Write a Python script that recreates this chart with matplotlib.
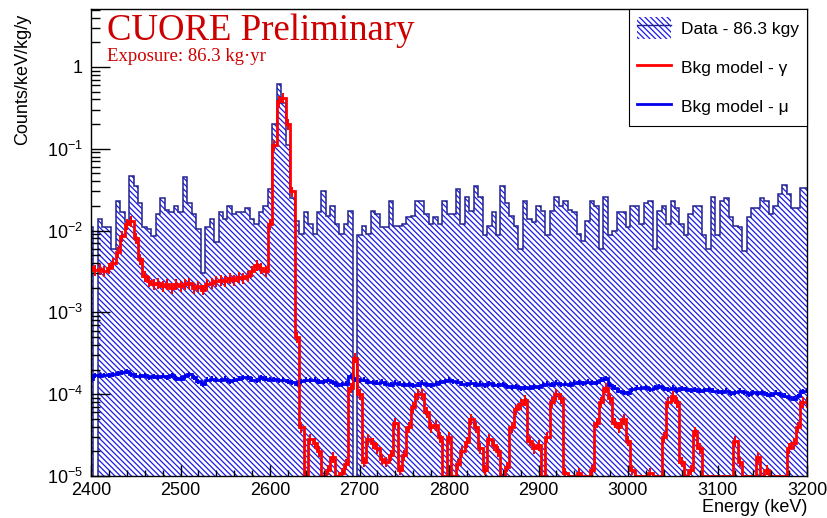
import numpy as np
import matplotlib
matplotlib.use("Agg")
import matplotlib.pyplot as plt
from matplotlib.patches import Patch
from matplotlib.lines import Line2D
from matplotlib.ticker import FixedLocator, LogLocator, MultipleLocator, NullFormatter

# ── binning: 5 keV bins, first centre at 2400 keV ─────────────────
BIN_WIDTH = 5.0
E_FIRST = 2400.0

# data (counts/keV/kg/y), one value per 5 keV bin, 2400 ... 3200 keV
DATA = np.array([
    1.1e-2, 0, 1.4e-2, 1.1e-2, 1.1e-2, 6.0e-3, 2.3e-2, 1.7e-2, 1.26e-2, 4.7e-2,
    3.5e-2, 2.2e-2, 1.1e-2, 1.05e-2, 8.5e-3, 1.6e-2, 2.5e-2, 1.8e-2, 1.7e-2, 2.0e-2,
    1.7e-2, 4.5e-2, 2.2e-2, 1.6e-2, 1.05e-2, 3.0e-3, 1.1e-2, 1.4e-2, 7.2e-3, 1.7e-2,
    1.4e-2, 2.0e-2, 1.6e-2, 1.7e-2, 1.7e-2, 1.9e-2, 1.4e-2, 1.2e-2, 1.7e-2, 2.0e-2,
    3.2e-2, 0.2, 0.62, 0.36, 0.11, 2.5e-2, 1.3e-2, 9.0e-3, 1.7e-2, 1.2e-2,
    9.0e-3, 1.7e-2, 3.0e-2, 1.5e-2, 2.0e-2, 1.2e-2, 9.0e-3, 1.2e-2, 1.75e-2, 0,
    8.7e-3, 1.15e-2, 9.0e-3, 1.75e-2, 1.6e-2, 1.1e-2, 1.1e-2, 2.3e-2, 1.15e-2, 1.15e-2,
    1.2e-2, 1.45e-2, 1.5e-2, 2.3e-2, 2.3e-2, 1.6e-2, 1.2e-2, 1.45e-2, 1.2e-2, 2.3e-2,
    1.6e-2, 1.6e-2, 3.2e-2, 1.2e-2, 2.6e-2, 1.75e-2, 3.5e-2, 2.6e-2, 8.7e-3, 1.15e-2,
    1.7e-2, 8.7e-3, 3.5e-2, 2.2e-2, 1.5e-2, 1.15e-2, 6.0e-3, 2.3e-2, 1.4e-2, 1.26e-2,
    2.0e-2, 1.75e-2, 8.7e-3, 1.75e-2, 2.6e-2, 2.0e-2, 2.3e-2, 1.8e-2, 1.7e-2, 9.0e-3,
    7.5e-3, 1.3e-2, 2.3e-2, 2.0e-2, 6.0e-3, 2.6e-2, 8.7e-3, 1.0e-2, 1.7e-2, 1.7e-2,
    1.1e-2, 2.0e-2, 2.0e-2, 1.2e-2, 2.2e-2, 2.3e-2, 6.0e-3, 1.75e-2, 2.0e-2, 1.2e-2,
    2.3e-2, 1.9e-2, 1.2e-2, 8.7e-3, 1.6e-2, 2.0e-2, 2.0e-2, 8.7e-3, 6.0e-3, 2.6e-2,
    8.7e-3, 2.3e-2, 2.5e-2, 1.45e-2, 1.15e-2, 1.1e-2, 5.7e-3, 1.45e-2, 1.9e-2, 1.9e-2,
    2.5e-2, 2.3e-2, 1.6e-2, 2.0e-2, 2.8e-2, 3.6e-2, 2.8e-2, 1.9e-2, 1.9e-2, 3.3e-2,
    3.3e-2,
])

# background model, gamma component
GAMMA = np.array([
    3.6e-3, 3.3e-3, 3.4e-3, 3.2e-3, 3.5e-3, 4.0e-3, 5.5e-3, 8.5e-3, 1.2e-2, 1.3e-2,
    8.0e-3, 4.5e-3, 2.8e-3, 2.4e-3, 2.2e-3, 2.3e-3, 2.1e-3, 2.2e-3, 2.0e-3, 2.2e-3,
    2.1e-3, 2.2e-3, 2.3e-3, 2.0e-3, 2.1e-3, 1.9e-3, 2.2e-3, 2.3e-3, 2.4e-3, 2.5e-3,
    2.4e-3, 2.6e-3, 2.5e-3, 2.7e-3, 2.6e-3, 2.8e-3, 3.2e-3, 3.8e-3, 3.5e-3, 3.2e-3,
    1.2e-2, 1.1e-1, 3.8e-1, 4.2e-1, 2.0e-1, 3.0e-2, 5.0e-4, 4.0e-5, 0, 2.8e-5,
    2.5e-5, 2.0e-5, 0, 1.2e-5, 1.7e-5, 0, 1.1e-5, 1.4e-5, 1.2e-4, 2.8e-4,
    1.0e-4, 1.5e-5, 2.8e-5, 2.5e-5, 2.2e-5, 1.6e-5, 1.5e-5, 1.8e-5, 4.5e-5, 1.2e-5,
    1.8e-5, 4.0e-5, 7.0e-5, 1.0e-4, 1.0e-4, 6.0e-5, 4.0e-5, 4.2e-5, 3.0e-5, 0,
    3.0e-5, 0, 1.4e-5, 2.0e-5, 2.6e-5, 5.0e-5, 4.0e-5, 2.2e-5, 1.2e-5, 2.8e-5,
    2.4e-5, 2.0e-5, 0, 1.3e-5, 4.0e-5, 6.5e-5, 7.5e-5, 8.5e-5, 2.7e-5, 2.2e-5,
    2.4e-5, 0, 3.0e-5, 8.0e-5, 1.0e-4, 9.0e-5, 1.1e-5, 0, 0, 1.1e-5,
    0, 0, 1.2e-5, 4.5e-5, 8.0e-5, 1.2e-4, 9.0e-5, 4.5e-5, 4.0e-5, 5.0e-5,
    2.7e-5, 1.2e-5, 0, 0, 0, 1.1e-5, 0, 0, 3.0e-5, 8.0e-5,
    9.5e-5, 8.0e-5, 1.5e-5, 0, 1.2e-5, 3.5e-5, 2.2e-5, 0, 0, 0,
    0, 0, 0, 0, 2.7e-5, 1.5e-5, 0, 0, 0, 1.7e-5,
    0, 1.2e-5, 0, 0, 0, 0, 2.2e-5, 2.5e-5, 4.0e-5, 8.0e-5,
    8.0e-5,
])

# background model, muon component
MU = np.array([
    1.55e-4, 1.70e-4, 1.68e-4, 1.72e-4, 1.70e-4, 1.75e-4, 1.80e-4, 1.85e-4, 1.90e-4, 1.75e-4,
    1.68e-4, 1.65e-4, 1.70e-4, 1.62e-4, 1.66e-4, 1.60e-4, 1.68e-4, 1.62e-4, 1.70e-4, 1.58e-4,
    1.55e-4, 1.65e-4, 1.75e-4, 1.60e-4, 1.45e-4, 1.32e-4, 1.50e-4, 1.55e-4, 1.50e-4, 1.48e-4,
    1.55e-4, 1.45e-4, 1.50e-4, 1.55e-4, 1.60e-4, 1.62e-4, 1.50e-4, 1.48e-4, 1.60e-4, 1.55e-4,
    1.50e-4, 1.52e-4, 1.48e-4, 1.50e-4, 1.45e-4, 1.40e-4, 1.35e-4, 1.45e-4, 1.50e-4, 1.48e-4,
    1.50e-4, 1.42e-4, 1.45e-4, 1.50e-4, 1.40e-4, 1.30e-4, 1.32e-4, 1.35e-4, 1.65e-4, 1.50e-4,
    1.48e-4, 1.50e-4, 1.42e-4, 1.40e-4, 1.38e-4, 1.42e-4, 1.35e-4, 1.30e-4, 1.38e-4, 1.35e-4,
    1.30e-4, 1.32e-4, 1.28e-4, 1.30e-4, 1.38e-4, 1.32e-4, 1.28e-4, 1.35e-4, 1.40e-4, 1.45e-4,
    1.50e-4, 1.45e-4, 1.42e-4, 1.35e-4, 1.32e-4, 1.38e-4, 1.30e-4, 1.35e-4, 1.28e-4, 1.36e-4,
    1.30e-4, 1.28e-4, 1.32e-4, 1.25e-4, 1.22e-4, 1.25e-4, 1.18e-4, 1.22e-4, 1.20e-4, 1.25e-4,
    1.22e-4, 1.30e-4, 1.35e-4, 1.30e-4, 1.38e-4, 1.32e-4, 1.35e-4, 1.30e-4, 1.38e-4, 1.40e-4,
    1.36e-4, 1.42e-4, 1.38e-4, 1.40e-4, 1.50e-4, 1.58e-4, 1.30e-4, 1.20e-4, 1.10e-4, 1.05e-4,
    1.02e-4, 1.15e-4, 1.20e-4, 1.18e-4, 1.22e-4, 1.15e-4, 1.20e-4, 1.25e-4, 1.18e-4, 1.15e-4,
    1.20e-4, 1.12e-4, 1.18e-4, 1.15e-4, 1.12e-4, 1.15e-4, 1.10e-4, 1.12e-4, 1.15e-4, 1.10e-4,
    1.08e-4, 1.05e-4, 1.10e-4, 1.02e-4, 1.06e-4, 1.10e-4, 1.05e-4, 1.00e-4, 1.05e-4, 1.02e-4,
    1.06e-4, 1.00e-4, 0.98e-4, 1.04e-4, 1.00e-4, 0.96e-4, 0.92e-4, 0.88e-4, 0.95e-4, 1.08e-4,
    1.10e-4,
])

GAMMA_REL_UNC = 0.15   # MC statistical uncertainty
MU_REL_UNC = 0.07

LEGEND_LABELS = ["Data - 86.3 kgy", "Bkg model - γ", "Bkg model - μ"]
Y_TICKS = [1e-5, 1e-4, 1e-3, 1e-2, 1e-1, 1]
Y_TICKLABELS = [r"$\mathregular{10^{-5}}$", r"$\mathregular{10^{-4}}$", r"$\mathregular{10^{-3}}$",
                r"$\mathregular{10^{-2}}$", r"$\mathregular{10^{-1}}$", "1"]

YMIN, YMAX = 1e-5, 5.1
TINY = 1e-9

centres = E_FIRST + BIN_WIDTH * np.arange(len(DATA))
edges = np.append(centres - BIN_WIDTH / 2, centres[-1] + BIN_WIDTH / 2)

plt.rcParams.update({
    "font.family": ["Liberation Sans", "DejaVu Sans"],
    "mathtext.fontset": "custom",
    "mathtext.rm": "Liberation Sans",
    "mathtext.it": "Liberation Sans:italic",
    "hatch.linewidth": 0.9,
})

HATCH = "\\" * 6
HATCH_COL = "#1a1ae8"
OUTLINE_COL = "#22228f"
MU_COL = "#0000ee"
GAMMA_COL = "#ff0000"

fig = plt.figure(figsize=(8.28, 5.18), dpi=100)
ax = fig.add_axes([91 / 828, 1 - 476 / 518, 716 / 828, 467 / 518])
ax.set_yscale("log")

# ── data histogram (hatched) ──
data_plot = np.where(DATA > 0, DATA, TINY)
ax.fill_between(edges, np.append(data_plot, data_plot[-1]), TINY, step="post",
                facecolor="none", edgecolor=HATCH_COL, hatch=HATCH, linewidth=0)
ax.stairs(data_plot, edges, baseline=None, color=OUTLINE_COL, lw=1.1)

# ── muon model ──
ax.stairs(np.clip(MU, YMIN, None), edges, baseline=None, color=MU_COL, lw=2)
ax.errorbar(centres, MU, yerr=MU * MU_REL_UNC, fmt="none", ecolor=MU_COL, elinewidth=1.4)

# ── gamma model ──
ax.stairs(np.clip(GAMMA, YMIN, None), edges, baseline=None, color=GAMMA_COL, lw=2)
nz = GAMMA > 0
ax.errorbar(centres[nz], GAMMA[nz], yerr=GAMMA[nz] * GAMMA_REL_UNC, fmt="none",
            ecolor=GAMMA_COL, elinewidth=1.4)

ax.set_xlim(2400, 3200)
ax.set_ylim(YMIN, YMAX)

ax.xaxis.set_major_locator(MultipleLocator(100))
ax.xaxis.set_minor_locator(MultipleLocator(20))
ax.yaxis.set_major_locator(FixedLocator(Y_TICKS))
ax.set_yticklabels(Y_TICKLABELS)
ax.yaxis.set_minor_locator(LogLocator(base=10, subs=range(2, 10), numticks=20))
ax.yaxis.set_minor_formatter(NullFormatter())

ax.tick_params(which="both", direction="in", top=False, right=False, labelsize=13, width=1)
ax.tick_params(axis="y", which="major", length=14, pad=6)
ax.tick_params(axis="y", which="minor", length=6.5)
ax.tick_params(axis="x", which="major", length=8, pad=4)
ax.tick_params(axis="x", which="minor", length=4.3)
for sp in ax.spines.values():
    sp.set_linewidth(1)

ax.set_xlabel("Energy (keV)", fontsize=13, loc="right")
ax.xaxis.set_label_coords(1.0, -0.05)
ax.set_ylabel("Counts/keV/kg/y", fontsize=13, loc="top")
ax.yaxis.set_label_coords(-0.083, 0.99)

ax.text(0.022, 0.9336, "CUORE Preliminary", transform=ax.transAxes, color="#cc0000",
        fontsize=26.5, family=["Liberation Serif", "DejaVu Serif"], va="baseline")
ax.text(0.022, 0.8887, "Exposure: 86.3 kg·yr", transform=ax.transAxes, color="#cc0000",
        fontsize=13.5, family=["Liberation Serif", "DejaVu Serif"], va="baseline")

h_data = (Patch(facecolor="white", edgecolor=HATCH_COL, hatch=HATCH, lw=0),
          Line2D([], [], color=OUTLINE_COL, lw=1))
h_gamma = Line2D([], [], color=GAMMA_COL, lw=2)
h_mu = Line2D([], [], color=MU_COL, lw=2)
leg = ax.legend([h_data, h_gamma, h_mu], LEGEND_LABELS, loc="upper right",
                bbox_to_anchor=(1.0, 1.0), borderaxespad=0, fontsize=12.5,
                frameon=True, fancybox=False, edgecolor="black", framealpha=1,
                borderpad=0.46, handlelength=2.0, handleheight=1.6,
                labelspacing=0.98, handletextpad=0.55)
leg.get_frame().set_linewidth(0.8)

fig.savefig("out.png", dpi=100)
